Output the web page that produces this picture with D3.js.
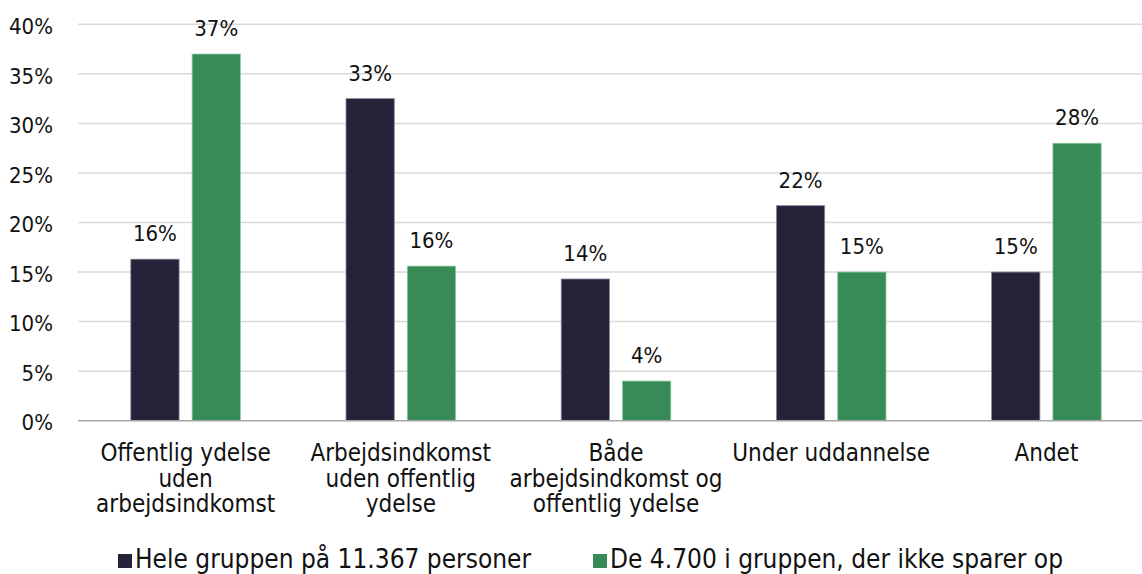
<!DOCTYPE html>
<html>
<head>
    <meta charset="utf-8">
    <script src="https://cdn.jsdelivr.net/npm/d3@7"></script>
    <style>
        body { margin: 0; background: #fff; }
        text { font-family: "DejaVu Sans Condensed", "DejaVu Sans", sans-serif; fill: #111; }
    </style>
</head>
<body>
    <svg class="MainSvg"></svg>
<script>
    // kategorier, linjeskift som i originalen
    var categories = [
        ["Offentlig ydelse", "uden", "arbejdsindkomst"],
        ["Arbejdsindkomst", "uden offentlig", "ydelse"],
        ["Både", "arbejdsindkomst og", "offentlig ydelse"],
        ["Under uddannelse"],
        ["Andet"]
    ];
    var seriesNames = ["Hele gruppen på 11.367 personer", "De 4.700 i gruppen, der ikke sparer op"];
    var hele = [16.3, 32.5, 14.3, 21.7, 15.0];
    var ikkeSparer = [37.0, 15.6, 4.0, 15.0, 28.0];
    var yTicks = [0, 5, 10, 15, 20, 25, 30, 35, 40];
    var colors = ["#25233a", "#368b57"];
    var strokes = ["#8c8a9c", "#8fcaa4"];

    var width = 1142, height = 574;
    var svg = d3.select(".MainSvg")
        .attr("width", width)
        .attr("height", height);

    var x0 = d3.scaleBand()
        .domain(d3.range(categories.length))
        .range([78, 1154])
        .paddingInner(0)
        .paddingOuter(0);
    var y = d3.scaleLinear().domain([0, 40]).range([420.7, 24.3]);

    // grid
    svg.append("g").selectAll("line")
        .data(yTicks.slice(1))
        .enter().append("line")
        .attr("x1", 78).attr("x2", width)
        .attr("y1", function (d) { return y(d); })
        .attr("y2", function (d) { return y(d); })
        .attr("stroke", "#d9d9d9")
        .attr("stroke-width", 1.5);

    // y-akse tekster
    var yAxis = d3.axisLeft(y)
        .tickValues(yTicks)
        .tickFormat(function (d) { return d + "%"; })
        .tickSize(0)
        .tickPadding(25);
    var gy = svg.append("g").attr("transform", "translate(78,0)").call(yAxis);
    gy.select(".domain").remove();
    gy.selectAll("text")
        .attr("dy", "0.42em")
        .style("font-size", "22px")
        .attr("fill", "#111");

    var series = [hele, ikkeSparer];
    var barW = 48.3, gap = 13;

    series.forEach(function (vals, s) {
        var g = svg.append("g");
        var bx = function (i) {
            return x0(i) + x0.bandwidth() / 2 - (barW + gap / 2) + s * (barW + gap);
        };
        g.selectAll("rect")
            .data(vals)
            .enter().append("rect")
            .attr("x", function (d, i) { return bx(i); })
            .attr("y", function (d) { return y(d); })
            .attr("width", barW)
            .attr("height", function (d) { return y(0) - y(d); })
            .attr("fill", colors[s])
            .attr("stroke", strokes[s])
            .attr("stroke-width", 0.8);
        g.selectAll("text")
            .data(vals)
            .enter().append("text")
            .attr("x", function (d, i) { return bx(i) + barW / 2; })
            .attr("y", function (d) { return y(d) - 18; })
            .attr("text-anchor", "middle")
            .style("font-size", "22px")
            .text(function (d) { return d.toFixed(0) + "%"; });
    });

    // x-akse linje
    svg.append("line")
        .attr("x1", 78).attr("x2", width)
        .attr("y1", y(0)).attr("y2", y(0))
        .attr("stroke", "#a6a6a6")
        .attr("stroke-width", 1.5);

    // kategori tekster
    var cat = svg.append("g").selectAll("text")
        .data(categories)
        .enter().append("text")
        .attr("text-anchor", "middle")
        .style("font-size", "24px");
    cat.each(function (lines, i) {
        var t = d3.select(this);
        lines.forEach(function (l, k) {
            t.append("tspan")
                .attr("x", x0(i) + x0.bandwidth() / 2)
                .attr("y", 461 + k * 25.5)
                .text(l);
        });
    });

    // legend
    var legX = [118, 593];
    var leg = svg.append("g").selectAll("g")
        .data(seriesNames)
        .enter().append("g")
        .attr("transform", function (d, i) { return "translate(" + legX[i] + ",554)"; });
    leg.append("rect")
        .attr("width", 14).attr("height", 14)
        .attr("fill", function (d, i) { return colors[i]; });
    leg.append("text")
        .attr("x", 17).attr("y", 14)
        .style("font-size", "26px")
        .text(function (d) { return d; });
</script>
</body>
</html>
